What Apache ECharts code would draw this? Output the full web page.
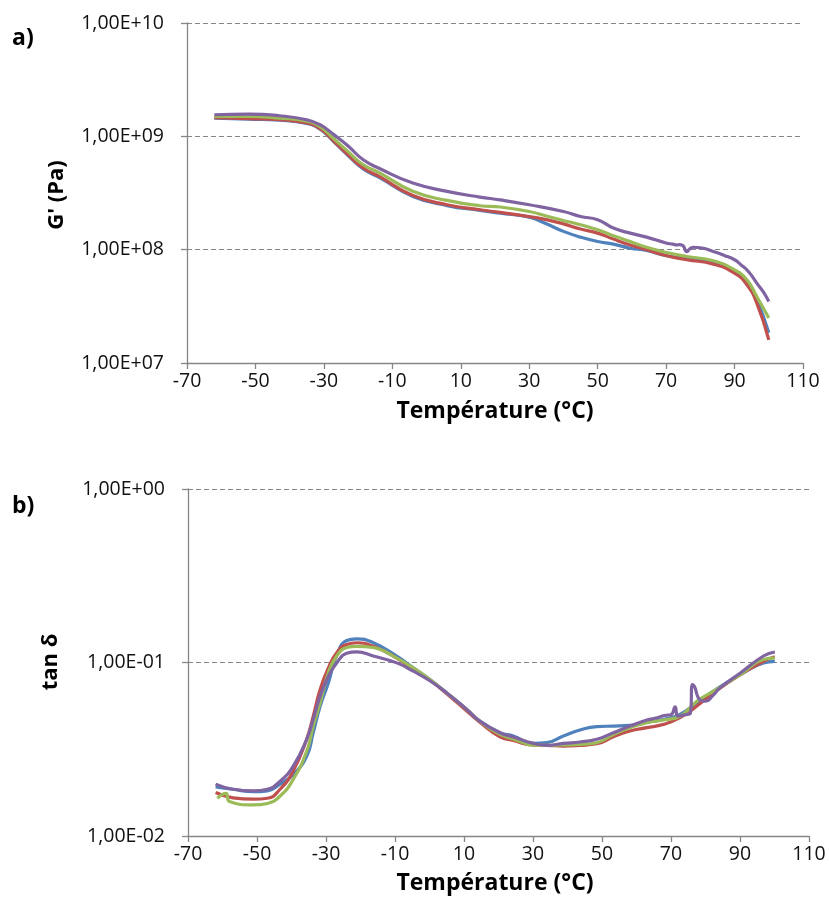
<!DOCTYPE html>
<html>
<head>
<meta charset="utf-8">
<script src="https://cdn.jsdelivr.net/npm/echarts@6/dist/echarts.min.js"></script>
<style>
html,body{margin:0;padding:0;background:#fff;}
#chart{width:829px;height:917px;}
</style>
</head>
<body>
<div id="chart"></div>
<script>
// ---- a) storage modulus G' (Pa) versus temperature ----
const gpTemp = [-62,-52,-43,-35,-31,-27,-23,-18.5,-13.6,-4,6,15.6,21.5,30,35,40,45,50,54.6,59.5,64.3,70.2,76,83.8,90,93.6,96.5,100];
const gpBlue = [1.45e9,1.42e9,1.39e9,1.30e9,1.15e9,8.9e8,6.8e8,5.15e8,4.3e8,2.95e8,2.45e8,2.22e8,2.10e8,1.93e8,1.69e8,1.45e8,1.29e8,1.18e8,1.12e8,1.03e8,9.84e7,8.83e7,8.3e7,7.6e7,6.43e7,5.14e7,3.61e7,1.85e7];
const gpRed = [1.46e9,1.43e9,1.40e9,1.31e9,1.16e9,9.0e8,6.9e8,5.25e8,4.38e8,3.0e8,2.49e8,2.25e8,2.13e8,1.96e8,1.84e8,1.69e8,1.52e8,1.40e8,1.24e8,1.10e8,9.98e7,8.83e7,8.15e7,7.46e7,6.21e7,4.90e7,3.38e7,1.60e7];
const gpGreen = [1.50e9,1.50e9,1.45e9,1.36e9,1.21e9,9.46e8,7.36e8,5.61e8,4.74e8,3.27e8,2.72e8,2.44e8,2.38e8,2.17e8,1.98e8,1.81e8,1.66e8,1.50e8,1.33e8,1.18e8,1.05e8,9.44e7,8.71e7,7.98e7,6.64e7,5.42e7,3.86e7,2.49e7];
const gpPurpleTemp = [-62,-52,-43,-35,-31,-27,-23,-18.5,-13.6,-4,6,15.6,21.5,30,40,45,50,54.6,59.5,64.3,70.2,72,73,74,75,76,77,78,80,83.8,87,90,92,93.6,95,96.5,98.5,100];
const gpPurple = [1.55e9,1.57e9,1.52e9,1.40e9,1.26e9,1.03e9,8.26e8,6.21e8,5.18e8,3.87e8,3.27e8,2.91e8,2.75e8,2.49e8,2.17e8,1.96e8,1.84e8,1.55e8,1.40e8,1.29e8,1.14e8,1.12e8,1.10e8,1.11e8,1.08e8,9.6e7,1.02e8,1.05e8,1.04e8,9.64e7,8.9e7,8.15e7,7.3e7,6.64e7,5.9e7,5.07e7,4.2e7,3.49e7];

// ---- b) loss factor tan delta versus temperature ----
const tdTemp = [-62,-57,-51,-47,-43.3,-39.5,-35.6,-33.7,-31.7,-29.3,-26.9,-24,-21.1,-16.3,-9.5,-4.7,0.1,5,10.8,14.6,20.4,24.3,30.1,34,38.8,43.6,48.5,53.3,58.1,63,67.8,72.6,77.5,82.3,90.2,96.8,100.1];
const tdBlue = [0.0192,0.0186,0.0180,0.0182,0.0199,0.0226,0.0288,0.0394,0.0560,0.0764,0.110,0.134,0.137,0.130,0.109,0.0931,0.0798,0.0668,0.0536,0.0459,0.0394,0.0377,0.0342,0.0345,0.0377,0.0408,0.0427,0.0430,0.0434,0.0453,0.0470,0.0502,0.0586,0.0684,0.0853,0.0995,0.1016];
const tdRed = [0.0178,0.0166,0.0163,0.0165,0.0186,0.0237,0.0361,0.0491,0.0700,0.0931,0.114,0.127,0.130,0.124,0.106,0.0912,0.0794,0.0661,0.0525,0.0452,0.0373,0.0355,0.0334,0.0333,0.0330,0.0333,0.0340,0.0373,0.0403,0.0421,0.0440,0.0481,0.0561,0.0668,0.0853,0.1016,0.108];
const tdGreenTemp = [-61.5,-59,-58,-51,-47,-43.3,-39.5,-35.6,-33.7,-31.7,-29.3,-26.9,-24,-21.1,-16.3,-9.5,-4.7,0.1,5,10.8,14.6,20.4,24.3,30.1,34,38.8,43.6,48.5,53.3,58.1,63,67.8,72.6,77.5,82.3,90.2,96.8,100.1];
const tdGreen = [0.0165,0.0176,0.0158,0.0151,0.0154,0.0170,0.0212,0.0308,0.0430,0.0586,0.0873,0.109,0.122,0.124,0.122,0.106,0.0931,0.0798,0.0668,0.0536,0.0459,0.0385,0.0363,0.0334,0.0333,0.0335,0.0337,0.0345,0.0385,0.0421,0.0450,0.0466,0.0490,0.0598,0.0684,0.0853,0.104,0.106];
const tdPurpleTemp = [-62,-57,-51,-47,-43.3,-39.5,-35.6,-33.7,-31.7,-29.3,-26.9,-24,-21.1,-16.3,-9.5,-4.7,0.1,5,10.8,14.6,20.4,24.3,30.1,34,38.8,43.6,48.5,53.3,58.1,63,66,68,70,71.2,72,74,75.6,76.2,76.9,77.7,78.6,80,82,84.2,90.2,96.8,100.1];
const tdPurple = [0.0199,0.0186,0.0182,0.0186,0.0207,0.0253,0.0361,0.0470,0.0640,0.0834,0.0995,0.113,0.115,0.109,0.0995,0.0891,0.0785,0.0668,0.0536,0.0459,0.0394,0.0372,0.0342,0.0333,0.0342,0.0348,0.0361,0.0394,0.0430,0.0466,0.048,0.0495,0.050,0.0556,0.049,0.050,0.051,0.0746,0.0720,0.064,0.0605,0.0598,0.064,0.0714,0.0873,0.109,0.115];

const xTicks = { min: -70, max: 110, interval: 20 };
const colors = { blue: '#4F81BD', red: '#C0504D', green: '#9BBB59', purple: '#8064A2' };

const FONT = '"Open Sans", "Liberation Sans", sans-serif';
const AXIS_GREY = '#868686';

function sci(v) {
  // Spreadsheet-style scientific label: 1,00E+10
  const e = Math.round(Math.log10(v));
  const sign = e < 0 ? '-' : '+';
  const a = Math.abs(e);
  return '1,00E' + sign + (a < 10 ? '0' + a : '' + a);
}

function pairs(xs, ys) { return xs.map((x, i) => [x, ys[i]]); }

function xAxisCfg(gridIndex) {
  return {
    type: 'value', gridIndex, min: xTicks.min, max: xTicks.max, interval: xTicks.interval,
    axisLine: { show: true, onZero: false, lineStyle: { color: AXIS_GREY, width: 1.3 } },
    axisTick: { show: true, inside: false, length: 6, lineStyle: { color: AXIS_GREY, width: 1.3 } },
    axisLabel: { color: '#111', fontFamily: FONT, fontSize: 19.5, margin: 8 },
    splitLine: { show: false }
  };
}

function yAxisCfg(gridIndex, min, max) {
  return {
    type: 'log', logBase: 10, gridIndex, min, max,
    axisLine: { show: true, onZero: false, lineStyle: { color: AXIS_GREY, width: 1.3 } },
    axisTick: { show: true, inside: false, length: 6, lineStyle: { color: AXIS_GREY, width: 1.3 } },
    axisLabel: { color: '#111', fontFamily: FONT, fontSize: 19.5, margin: 23, formatter: sci },
    splitLine: { show: true, lineStyle: { color: AXIS_GREY, type: [5, 3], width: 1.2 } }
  };
}

function lineSeries(idx, data, color) {
  return {
    type: 'line', xAxisIndex: idx, yAxisIndex: idx, data, showSymbol: false,
    smooth: 0.5,
    lineStyle: { color, width: 3.2 }, itemStyle: { color }, silent: true, animation: false
  };
}

const chart = echarts.init(document.getElementById('chart'), null, { renderer: 'canvas' });
chart.setOption({
  backgroundColor: '#fff',
  animation: false,
  grid: [
    { left: 187, right: 26, top: 23, height: 340 },
    { left: 188, right: 20, top: 489, height: 347 }
  ],
  xAxis: [xAxisCfg(0), xAxisCfg(1)],
  yAxis: [yAxisCfg(0, 1e7, 1e10), yAxisCfg(1, 1e-2, 1e0)],
  series: [
    lineSeries(0, pairs(gpTemp, gpBlue), colors.blue),
    lineSeries(0, pairs(gpTemp, gpRed), colors.red),
    lineSeries(0, pairs(gpTemp, gpGreen), colors.green),
    lineSeries(0, pairs(gpPurpleTemp, gpPurple), colors.purple),
    lineSeries(1, pairs(tdTemp, tdBlue), colors.blue),
    lineSeries(1, pairs(tdTemp, tdRed), colors.red),
    lineSeries(1, pairs(tdGreenTemp, tdGreen), colors.green),
    lineSeries(1, pairs(tdPurpleTemp, tdPurple), colors.purple)
  ],
  graphic: [
    { type: 'text', left: 12, top: 27, style: { text: 'a)', font: 'bold 23px ' + FONT, fill: '#000' } },
    { type: 'text', left: 12, top: 495, style: { text: 'b)', font: 'bold 23px ' + FONT, fill: '#000' } },
    { type: 'text', x: 495, y: 411, style: { text: 'Température (°C)', font: 'bold 23px ' + FONT, fill: '#000', align: 'center', verticalAlign: 'middle' } },
    { type: 'text', x: 495, y: 883, style: { text: 'Température (°C)', font: 'bold 23px ' + FONT, fill: '#000', align: 'center', verticalAlign: 'middle' } },
    { type: 'text', x: 57, y: 195, rotation: Math.PI / 2, style: { text: "G' (Pa)", font: 'bold 22px ' + FONT, fill: '#000', align: 'center', verticalAlign: 'middle' } },
    { type: 'text', x: 51, y: 662, rotation: Math.PI / 2, style: { text: 'tan δ', font: 'bold 22px ' + FONT, fill: '#000', align: 'center', verticalAlign: 'middle' } }
  ]
});
</script>
</body>
</html>
